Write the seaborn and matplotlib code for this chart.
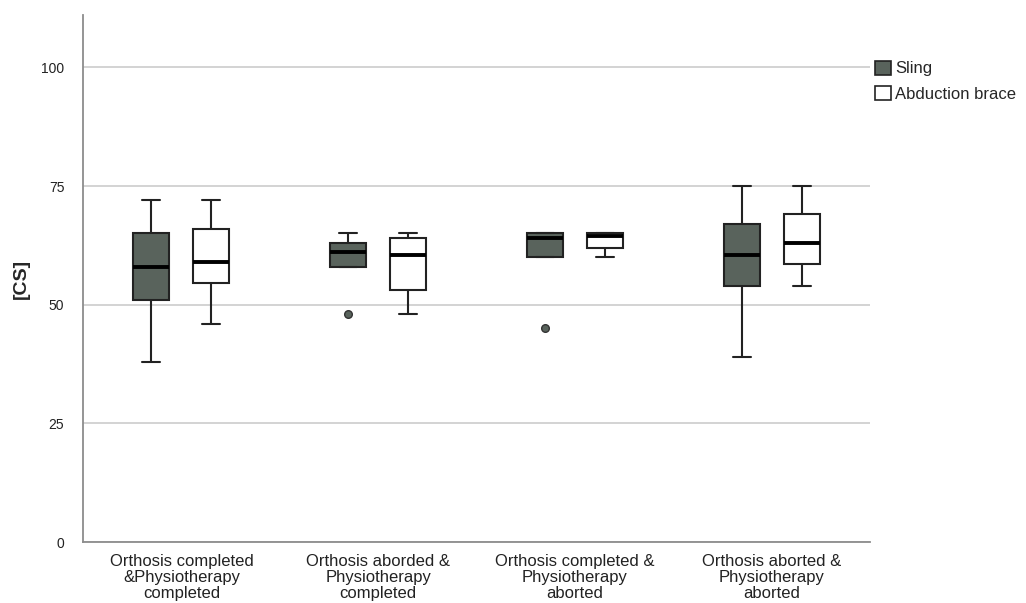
import matplotlib
matplotlib.use("Agg")
import matplotlib.pyplot as plt
import matplotlib.patches as mpatches
import seaborn as sns
import pandas as pd

# values, one list per box
groups = ["Orthosis completed\n&Physiotherapy\ncompleted",
          "Orthosis aborded &\nPhysiotherapy\ncompleted",
          "Orthosis completed &\nPhysiotherapy\naborted",
          "Orthosis aborted &\nPhysiotherapy\naborted"]
orthoses = ["Sling", "Abduction brace"]

sling_g1 = [38, 51, 58, 65, 72]
brace_g1 = [46, 54.5, 59, 66, 72]
sling_g2 = [48, 58, 58, 60, 61, 62, 63, 64, 65]
brace_g2 = [48, 53, 60.5, 64, 65]
sling_g3 = [45, 60, 60, 62, 64, 65, 65, 65, 65]
brace_g3 = [60, 62, 64.5, 65, 65]
sling_g4 = [39, 54, 60.5, 67, 75]
brace_g4 = [54, 58.5, 63, 69, 75]

values = {
    (groups[0], "Sling"): sling_g1, (groups[0], "Abduction brace"): brace_g1,
    (groups[1], "Sling"): sling_g2, (groups[1], "Abduction brace"): brace_g2,
    (groups[2], "Sling"): sling_g3, (groups[2], "Abduction brace"): brace_g3,
    (groups[3], "Sling"): sling_g4, (groups[3], "Abduction brace"): brace_g4,
}
rows = []
for (g, o), vals in values.items():
    for v in vals:
        rows.append({"group": g, "orthosis": o, "CS": v})
df = pd.DataFrame(rows)

sns.set_style("white")
plt.rcParams['font.family'] = ['Liberation Sans', 'DejaVu Sans']

colors = {"Sling": "#59635c", "Abduction brace": "white"}

fig = plt.figure(figsize=(10.26, 6.03), dpi=100)
ax = fig.add_axes([0.081, 0.101, 0.767, 0.874])

sns.boxplot(data=df, x="group", y="CS", hue="orthosis", order=groups,
            hue_order=orthoses, palette=colors, saturation=1,
            width=0.61, gap=0.4, linecolor="#222222", linewidth=1.5,
            medianprops=dict(color="black", linewidth=2.8),
            flierprops=dict(marker="o", markerfacecolor="#59635c",
                            markeredgecolor="#333333", markersize=5.5),
            legend=False, ax=ax)

ax.set_ylim(0, 111)
ax.set_xlim(-0.5, 3.5)
ax.set_yticks([0, 25, 50, 75, 100])
ax.yaxis.grid(True, color="#d0d0d0", linewidth=1.3)
ax.set_axisbelow(True)
for s in ["top", "right"]:
    ax.spines[s].set_visible(False)
for s in ["left", "bottom"]:
    ax.spines[s].set_color("#8c8c8c")
    ax.spines[s].set_linewidth(1.3)
ax.tick_params(axis="y", left=False, pad=10, labelsize=10, labelcolor="#222222")
ax.tick_params(axis="x", bottom=False, pad=5, labelsize=12, labelcolor="#222222")
for lbl in ax.get_xticklabels():
    lbl.set_linespacing(1.1)
ax.set_xlabel("")
ax.set_ylabel("[CS]", fontsize=14, fontweight="bold", labelpad=8)

handles = [mpatches.Patch(facecolor=colors[o], edgecolor="#222222", linewidth=1.2, label=o)
           for o in orthoses]
ax.legend(handles=handles, loc="upper left", bbox_to_anchor=(1.002, 0.92),
          frameon=False, fontsize=12, handlelength=0.95, handleheight=0.95,
          handletextpad=0.25, labelspacing=0.55, borderaxespad=0.0, borderpad=0.2)

fig.savefig("out.png", dpi=100)
